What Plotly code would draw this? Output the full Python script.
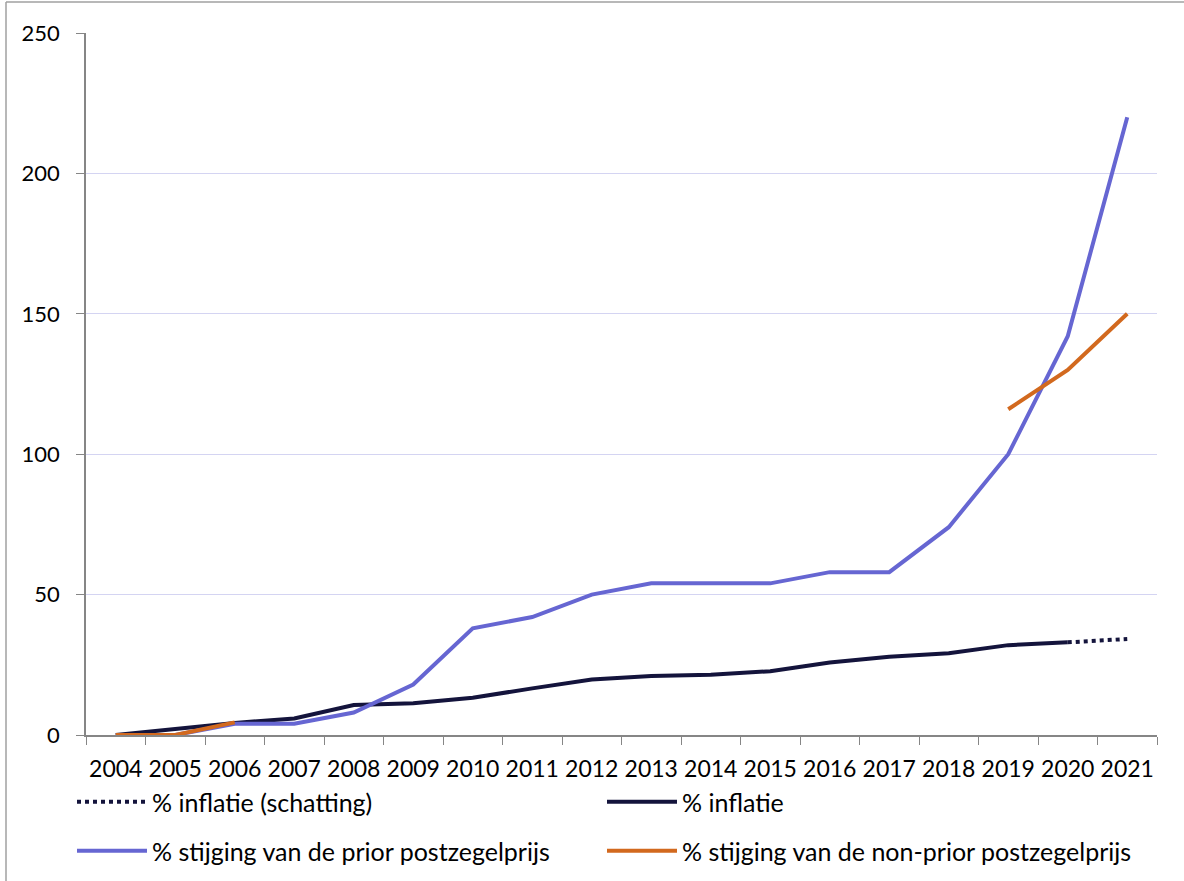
import plotly.graph_objects as go

years = [str(y) for y in range(2004, 2022)]
inflatie = [0, 2.2, 4.3, 5.9, 10.7, 11.3, 13.3, 16.6, 19.8, 21.0, 21.5, 22.7, 25.8, 27.9, 29.1, 32.0, 33.0, None]
inflatie_schatting = [None] * 16 + [33.0, 34.2]
prior = [0, 0, 4, 4, 8, 18, 38, 42, 50, 54, 54, 54, 58, 58, 74, 100, 142, 220]
non_prior = [0, 0, 4.5] + [None] * 12 + [116, 130, 150]

y_ticks = [0, 50, 100, 150, 200, 250]

FONT = "Lato"
W, H = 1184, 881
L, R, T, B = 86, 1157, 33, 735
pw, ph = R - L, B - T

def px_x(x):
    return (x - L) / pw

def px_y(y):
    return (B - y) / ph

fig = go.Figure()
fig.add_trace(go.Scatter(x=years, y=inflatie_schatting, mode="lines", name="% inflatie (schatting)",
                         line=dict(color="#14143c", width=4, dash="dot"), legend="legend"))
fig.add_trace(go.Scatter(x=years, y=inflatie, mode="lines", name="% inflatie",
                         line=dict(color="#14143c", width=4), legend="legend2"))
fig.add_trace(go.Scatter(x=years, y=prior, mode="lines", name="% stijging van de prior postzegelprijs",
                         line=dict(color="#6666d2", width=4), legend="legend3"))
fig.add_trace(go.Scatter(x=years, y=non_prior, mode="lines", name="% stijging van de non-prior postzegelprijs",
                         line=dict(color="#d2691e", width=4), legend="legend4"))

legend_common = dict(orientation="h", itemwidth=70,
                     font=dict(family=FONT, size=25, color="#000000"), bgcolor="rgba(0,0,0,0)",
                     xanchor="left", yanchor="middle")

fig.update_layout(
    width=W, height=H,
    margin=dict(l=L, r=W - R, t=T, b=H - B, pad=0, autoexpand=False),
    paper_bgcolor="white", plot_bgcolor="white",
    font=dict(family=FONT, size=23, color="#000000"),
    showlegend=True,
    legend=dict(x=px_x(72), y=px_y(802), **legend_common),
    legend2=dict(x=px_x(602), y=px_y(802), **legend_common),
    legend3=dict(x=px_x(72), y=px_y(851), **legend_common),
    legend4=dict(x=px_x(602), y=px_y(851), **legend_common),
    xaxis=dict(type="category", tickson="boundaries", ticks="outside", ticklen=8, tickcolor="#868686",
               showline=True, linecolor="#868686", linewidth=1.5, showgrid=False, zeroline=False,
               range=[-0.5, len(years) - 0.5], tickfont=dict(family=FONT, size=23), tickangle=0,
               ticklabelstandoff=13, automargin=False),
    yaxis=dict(range=[0, 250], tickvals=y_ticks, ticks="outside", ticklen=8, tickcolor="#868686",
               showline=True, linecolor="#868686", linewidth=1.5, gridcolor="#d4d4f2", gridwidth=1.2,
               zeroline=False, tickfont=dict(family=FONT, size=22), ticklabelstandoff=12,
               automargin=False),
    shapes=[
        dict(type="line", xref="paper", yref="paper", x0=px_x(6), x1=px_x(6), y0=px_y(2), y1=px_y(881),
             line=dict(color="#a0a0a0", width=1.5)),
        dict(type="line", xref="paper", yref="paper", x0=px_x(6), x1=px_x(1184), y0=px_y(2), y1=px_y(2),
             line=dict(color="#a0a0a0", width=1.5)),
    ],
)

fig.write_html("out.html", config={"displayModeBar": False},
               post_script="document.body.style.margin='0';document.body.style.overflow='hidden';")
